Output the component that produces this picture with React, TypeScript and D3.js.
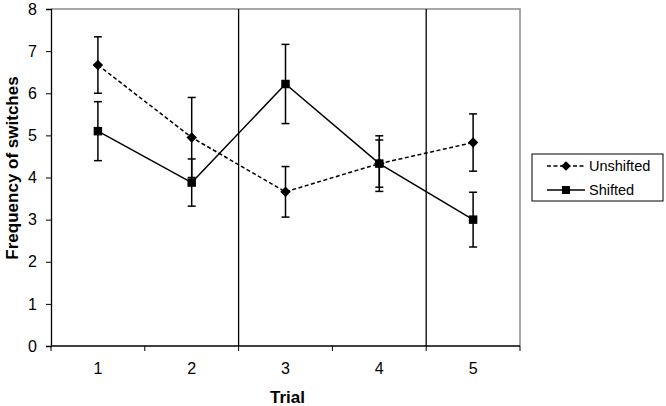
import React, { useEffect, useRef } from "react";
import * as d3 from "d3";

const trials = ["1", "2", "3", "4", "5"];
const unshifted = [6.67, 4.95, 3.66, 4.33, 4.83];
const unshiftedErr = [0.67, 0.95, 0.6, 0.56, 0.68];
const shifted = [5.1, 3.88, 6.22, 4.33, 3.0];
const shiftedErr = [0.7, 0.56, 0.94, 0.66, 0.65];
const yTicks = [0, 1, 2, 3, 4, 5, 6, 7, 8];
const dividers = ["2", "4"];

const W = 666;
const H = 406;
const margin = { top: 9, right: 146, bottom: 60, left: 51 };

export default function App() {
  const svgRef = useRef<SVGSVGElement>(null);

  useEffect(() => {
    const svg = d3.select(svgRef.current);
    svg.selectAll("*").remove();
    const width = W - margin.left - margin.right;
    const height = H - margin.top - margin.bottom;
    const font = "Liberation Sans, Arial, sans-serif";

    const x = d3.scaleBand().domain(trials).range([0, width]).padding(0);
    const y = d3.scaleLinear().domain([0, 8]).range([height, 0]);
    const cx = (d: string) => (x(d) as number) + x.bandwidth() / 2;

    const g = svg.append("g").attr("transform", `translate(${margin.left},${margin.top})`);

    // gray frame top/right
    g.append("path")
      .attr("d", `M0,0H${width}V${height}`)
      .attr("fill", "none")
      .attr("stroke", "#8a8a8a")
      .attr("stroke-width", 1.5);

    // trial dividers
    dividers.forEach((d) => {
      const xx = (x(d) as number) + x.bandwidth();
      g.append("line")
        .attr("x1", xx).attr("x2", xx)
        .attr("y1", 0).attr("y2", height)
        .attr("stroke", "#000").attr("stroke-width", 1.3);
    });

    // y axis
    const ya = g.append("g").call(
      d3.axisLeft(y).tickValues(yTicks).tickSize(5).tickPadding(9).tickFormat(d3.format("d"))
    );
    ya.select(".domain").attr("stroke-width", 1.3);
    ya.selectAll("text").attr("font-size", 16).attr("font-family", font).attr("fill", "#000");

    // x axis: ticks at band boundaries
    const xa = g.append("g").attr("transform", `translate(0,${height})`);
    xa.append("line").attr("x1", 0).attr("x2", width).attr("stroke", "#000").attr("stroke-width", 1.3);
    const bounds = trials.map((d) => x(d) as number).concat([width]);
    xa.selectAll("line.t").data(bounds).join("line")
      .attr("class", "t")
      .attr("x1", (d) => d).attr("x2", (d) => d)
      .attr("y1", 0).attr("y2", 5)
      .attr("stroke", "#000").attr("stroke-width", 1);
    xa.selectAll("text").data(trials).join("text")
      .attr("x", (d) => cx(d)).attr("y", 28)
      .attr("text-anchor", "middle")
      .attr("font-size", 16).attr("font-family", font)
      .text((d) => d);

    const drawSeries = (vals: number[], errs: number[], dashed: boolean, marker: "diamond" | "square") => {
      const line = d3.line<number>().x((_, i) => cx(trials[i])).y((v) => y(v));
      g.append("path")
        .datum(vals)
        .attr("d", line)
        .attr("fill", "none")
        .attr("stroke", "#000")
        .attr("stroke-width", 1.5)
        .attr("stroke-dasharray", dashed ? "4,2.5" : null);
      vals.forEach((v, i) => {
        const xx = cx(trials[i]);
        const y1 = y(v + errs[i]);
        const y2 = y(v - errs[i]);
        g.append("line").attr("x1", xx).attr("x2", xx).attr("y1", y1).attr("y2", y2)
          .attr("stroke", "#000").attr("stroke-width", 1.5);
        [y1, y2].forEach((yy) =>
          g.append("line").attr("x1", xx - 4).attr("x2", xx + 4).attr("y1", yy).attr("y2", yy)
            .attr("stroke", "#000").attr("stroke-width", 1.5)
        );
      });
      const sym = d3.symbol()
        .type(marker === "diamond" ? d3.symbolDiamond2 : d3.symbolSquare)
        .size(marker === "diamond" ? 70 : 72);
      g.selectAll(`path.m-${marker}`).data(vals).join("path")
        .attr("class", `m-${marker}`)
        .attr("transform", (v, i) => `translate(${cx(trials[i])},${y(v)})`)
        .attr("d", sym() as string)
        .attr("fill", "#000");
    };

    drawSeries(unshifted, unshiftedErr, true, "diamond");
    drawSeries(shifted, shiftedErr, false, "square");

    // axis titles
    svg.append("text")
      .attr("transform", `translate(18,168) rotate(-90)`)
      .attr("text-anchor", "middle")
      .attr("font-size", 17).attr("font-weight", "bold").attr("font-family", font)
      .text("Frequency of switches");
    svg.append("text")
      .attr("x", margin.left + width / 2 + 2).attr("y", 403)
      .attr("text-anchor", "middle")
      .attr("font-size", 17).attr("font-weight", "bold").attr("font-family", font)
      .text("Trial");

    // legend
    const lg = svg.append("g").attr("transform", "translate(532,154)");
    lg.append("rect").attr("width", 131).attr("height", 47)
      .attr("fill", "#fff").attr("stroke", "#000").attr("stroke-width", 1);
    const items = [
      { name: "Unshifted", dashed: true, marker: d3.symbolDiamond2, size: 60 },
      { name: "Shifted", dashed: false, marker: d3.symbolSquare, size: 64 },
    ];
    items.forEach((it, i) => {
      const yy = 12 + i * 24;
      lg.append("line").attr("x1", 15).attr("x2", 53).attr("y1", yy).attr("y2", yy)
        .attr("stroke", "#000").attr("stroke-width", 1.5)
        .attr("stroke-dasharray", it.dashed ? "4,2.5" : null);
      lg.append("path").attr("transform", `translate(34,${yy})`)
        .attr("d", d3.symbol().type(it.marker).size(it.size)() as string)
        .attr("fill", "#000");
      lg.append("text").attr("x", 57).attr("y", yy + 5)
        .attr("font-size", 14.5).attr("font-family", font)
        .text(it.name);
    });
  }, []);

  return <svg ref={svgRef} width={W} height={H} style={{ display: "block", position: "absolute", left: 0, top: 0 }} />;
}
